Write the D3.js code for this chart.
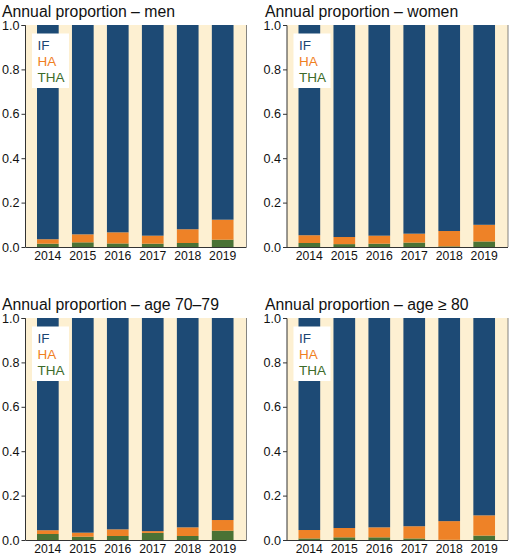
<!DOCTYPE html>
<html><head><meta charset="utf-8">
<script src="https://cdn.jsdelivr.net/npm/d3@7"></script>
<style>body{margin:0;background:#fff}svg{display:block}text{font-family:"Liberation Sans",Arial,Helvetica,sans-serif}</style>
</head><body><svg id="c" width="510" height="555"></svg>
<script>
const years = ["2014","2015","2016","2017","2018","2019"];
const titles = ["Annual proportion – men","Annual proportion – women","Annual proportion – age 70–79","Annual proportion – age ≥ 80"];
const seriesNames = ["IF","HA","THA"];
const yTicks = [0,0.2,0.4,0.6,0.8,1.0];
// THA (bottom), HA (middle), IF = remainder
const thaMen   = [0.015,0.021,0.016,0.015,0.018,0.033];
const haMen    = [0.020,0.036,0.050,0.036,0.062,0.090];
const thaWomen = [0.018,0.013,0.015,0.020,0.003,0.025];
const haWomen  = [0.035,0.032,0.036,0.040,0.069,0.075];
const tha7079  = [0.027,0.015,0.018,0.032,0.018,0.042];
const ha7079   = [0.017,0.018,0.030,0.008,0.039,0.048];
const tha80    = [0.007,0.012,0.012,0.007,0.001,0.020];
const ha80     = [0.038,0.042,0.045,0.055,0.084,0.091];

const panelsTHA = [thaMen,thaWomen,tha7079,tha80];
const panelsHA = [haMen,haWomen,ha7079,ha80];
const colors = {IF:"#1d4a75", HA:"#ee8227", THA:"#4a7235"};
const legendColors = {IF:"#1a4573", HA:"#f07f1f", THA:"#3d6b2a"};

const svg = d3.select("#c");
const origins = [[25.5,25],[287,25],[25.5,318],[287,318]];
const W = 221, H = 222;

panelsTHA.forEach((tha,pi)=>{
  const ha = panelsHA[pi];
  const [x0,y0] = origins[pi];
  const data = years.map((y,i)=>({year:y, THA:tha[i], HA:ha[i], IF:1-tha[i]-ha[i]}));
  const stack = d3.stack().keys(["THA","HA","IF"])(data);
  const x = d3.scaleBand().domain(years).range([x0,x0+W]).paddingInner(0.38).paddingOuter(0.35).align(0.47);
  const y = d3.scaleLinear().domain([0,1]).range([y0+H,y0]);
  const g = svg.append("g");
  g.append("text").attr("x", pi%2===0?2:265).attr("y", y0-8).attr("font-size","15.8px").attr("fill","#111").text(titles[pi]);
  g.append("rect").attr("x",x0).attr("y",y0).attr("width",W).attr("height",H).attr("fill","#fdf0d2");
  stack.forEach(layer=>{
    g.selectAll(null).data(layer).enter().append("rect")
      .attr("x",d=>x(d.data.year)).attr("width",x.bandwidth())
      .attr("y",d=>y(d[1])).attr("height",d=>y(d[0])-y(d[1]))
      .attr("fill",colors[layer.key]);
  });
  // legend
  const lx = x0+6.5, ly = y0+8.5;
  g.append("rect").attr("x",lx).attr("y",ly).attr("width",37).attr("height",54.5).attr("fill","#fff");
  seriesNames.forEach((s,i)=>{
    g.append("text").attr("x",lx+5.5).attr("y",ly+16+i*16).attr("font-size","13.5px").attr("fill",legendColors[s]).text(s);
  });
  // right border
  g.append("line").attr("x1",x0+W).attr("x2",x0+W).attr("y1",y0).attr("y2",y0+H).attr("stroke","#666").attr("stroke-width",0.8);
  const ya = d3.axisLeft(y).tickValues(yTicks).tickFormat(d3.format(".1f")).tickSize(4).tickPadding(2);
  const yg = g.append("g").attr("transform",`translate(${x0},0)`).call(ya);
  yg.select(".domain").attr("stroke","#333").attr("d",`M-4,${y0+0.5}H0V${y0+H}`);
  yg.selectAll(".tick line").attr("stroke","#333");
  yg.selectAll("text").attr("font-size","12.6px").attr("fill","#111").attr("font-family","Liberation Sans,Arial,sans-serif");
  const xa = d3.axisBottom(x).tickSize(0).tickPadding(4);
  const xg = g.append("g").attr("transform",`translate(0,${y0+H})`).call(xa);
  xg.select(".domain").attr("stroke","#333").attr("d",`M${x0},0.5H${x0+W}`);
  xg.selectAll("text").attr("font-size","12.2px").attr("fill","#111").attr("font-family","Liberation Sans,Arial,sans-serif");
});
</script></body></html>
